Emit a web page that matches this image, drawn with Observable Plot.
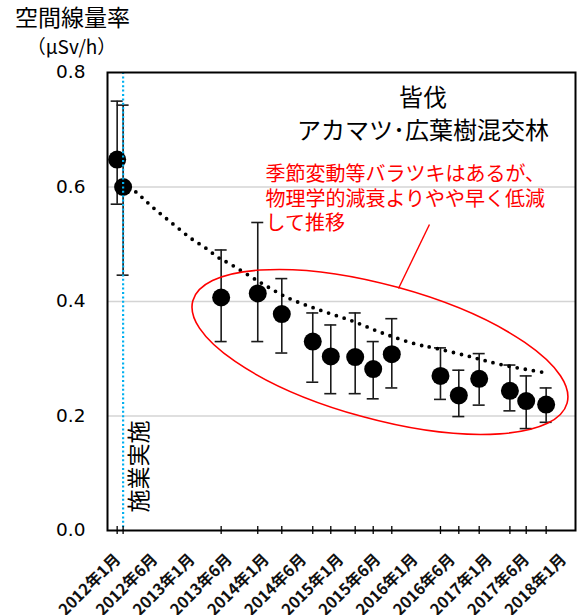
<!DOCTYPE html>
<html>
<head>
<meta charset="utf-8">
<script src="https://cdn.jsdelivr.net/npm/d3@7"></script>
<script src="https://cdn.jsdelivr.net/npm/@observablehq/plot@0.6"></script>
<style>
  body { margin: 0; background: #fff; }
</style>
</head>
<body>
<div id="chart"></div>
<script>
// ---- data (x = months since January 2012) ----
const xLabels = ["2012年1月","2012年6月","2013年1月","2013年6月","2014年1月","2014年6月","2015年1月","2015年6月","2016年1月","2016年6月","2017年1月","2017年6月","2018年1月"];
const yTicks = [0, 0.2, 0.4, 0.6, 0.8];

const surveyMonth = [-0.86, 0.1, 15.93, 21.84, 25.72, 30.72, 33.63, 37.57, 40.48, 43.48, 51.34, 54.3, 57.59, 62.55, 65.18, 68.4];
const doseRate    = [0.648, 0.600, 0.407, 0.414, 0.378, 0.330, 0.304, 0.303, 0.282, 0.308, 0.270, 0.236, 0.265, 0.244, 0.226, 0.220];
const doseLow     = [0.570, 0.446, 0.330, 0.330, 0.310, 0.259, 0.239, 0.239, 0.230, 0.249, 0.229, 0.199, 0.219, 0.209, 0.178, 0.189];
const doseHigh    = [0.750, 0.743, 0.490, 0.538, 0.440, 0.380, 0.359, 0.380, 0.330, 0.370, 0.319, 0.280, 0.309, 0.289, 0.270, 0.249];

// physical decay reference curve (dotted)
const decayMonth = [0.1, 2.63, 4.63, 6.73, 8.88, 11.09, 13.35, 15.71, 17.16, 21.84, 26.59, 31.85, 37.08, 42.19, 47.58, 50.26, 55.65, 61.03, 68.02];
const decayValue = [0.610, 0.587, 0.567, 0.548, 0.529, 0.510, 0.494, 0.475, 0.467, 0.436, 0.407, 0.385, 0.366, 0.344, 0.325, 0.319, 0.305, 0.290, 0.276];

const treatmentMonth = 0.1;
const yTitle = ["空間線量率", "（μSv/h）"];
const siteTitle = ["皆伐", "アカマツ･広葉樹混交林"];
const noteLines = ["季節変動等バラツキはあるが、", "物理学的減衰よりやや早く低減", "して推移"];
const treatmentLabel = "施業実施";
// annotation: ellipse centre (month, value) and leader line end points
const ellipseCentre = {month: 41.65, value: 0.311};
const leader = [{x1: 49.56, y1: 0.5345, x2: 44.56, y2: 0.4227}];

// ---- derived tables ----
const surveys = surveyMonth.map((m, i) => ({m, v: doseRate[i], lo: doseLow[i], hi: doseHigh[i]}));
const decay = decayMonth.map((m, i) => ({m, v: decayValue[i]}));
const labelRows = xLabels.map((t, i) => ({t, m: 6 * i}));

const JP = "'Noto Sans CJK JP', 'Noto Sans', sans-serif";

function ellipseMark(index, scales) {
  const ns = "http://www.w3.org/2000/svg";
  const cx = scales.x(ellipseCentre.month), cy = scales.y(ellipseCentre.value);
  const e = document.createElementNS(ns, "ellipse");
  e.setAttribute("cx", cx);
  e.setAttribute("cy", cy);
  e.setAttribute("rx", 194);
  e.setAttribute("ry", 67);
  e.setAttribute("transform", `rotate(15.3 ${cx} ${cy})`);
  e.setAttribute("fill", "none");
  e.setAttribute("stroke", "#FF0000");
  e.setAttribute("stroke-width", 1.6);
  return e;
}

const chart = Plot.plot({
  width: 578,
  height: 615,
  marginLeft: 107,
  marginRight: 3,
  marginTop: 72,
  marginBottom: 85,
  x: {domain: [-2.42, 73.14], axis: null},
  y: {domain: [0, 0.8], axis: null},
  style: {fontFamily: JP, background: "#fff", color: "#000", overflow: "visible"},
  marks: [
    Plot.ruleY([0.2, 0.4, 0.6], {stroke: "#d4d4d4", strokeWidth: 1.3}),
    // error bars
    Plot.ruleX(surveys, {x: "m", y1: "lo", y2: "hi", stroke: "#1a1a1a", strokeWidth: 1.6}),
    Plot.ruleY(surveys, {y: "hi", x1: "m", x2: "m", insetLeft: -6, insetRight: -6, stroke: "#1a1a1a", strokeWidth: 1.6}),
    Plot.ruleY(surveys, {y: "lo", x1: "m", x2: "m", insetLeft: -6, insetRight: -6, stroke: "#1a1a1a", strokeWidth: 1.6}),
    Plot.dot(surveys, {x: "m", y: "v", r: 9, fill: "#000", stroke: "none"}),
    // decay curve
    Plot.line(decay, {x: "m", y: "v", curve: "catmull-rom", stroke: "#000", strokeWidth: 3.8, strokeDasharray: "0 8.2", strokeLinecap: "round"}),
    // annotation
    ellipseMark,
    Plot.link(leader, {x1: "x1", y1: "y1", x2: "x2", y2: "y2", stroke: "#FF0000", strokeWidth: 1.4}),
    // treatment line
    Plot.ruleX([treatmentMonth], {stroke: "#00B0F0", strokeWidth: 2.2, strokeDasharray: "2 2.4"}),
    Plot.frame({stroke: "#000", strokeWidth: 2}),
    // x-axis ticks at survey dates
    Plot.ruleX(surveys, {x: "m", y1: 0, y2: 0, insetTop: -4, insetBottom: -4, stroke: "#000", strokeWidth: 1.3}),
    // x labels
    Plot.text(labelRows, {x: "m", text: "t", frameAnchor: "bottom", rotate: -45, textAnchor: "end", lineAnchor: "bottom", dx: -1, dy: 30, fontSize: 16, fontWeight: "bold", fill: "#111"}),
    // y labels
    Plot.text(yTicks, {y: d => d, text: d => d3.format(".1f")(d), frameAnchor: "left", textAnchor: "end", dx: -22, fontSize: 18.5, fontFamily: "'DejaVu Sans', sans-serif", fill: "#000"}),
    // y title
    Plot.text([yTitle[0]], {text: d => d, frameAnchor: "top-left", textAnchor: "middle", lineAnchor: "bottom", dx: -35, dy: -46.5, fontSize: 23, fill: "#000"}),
    Plot.text([yTitle[1]], {text: d => d, frameAnchor: "top-left", textAnchor: "middle", lineAnchor: "bottom", dx: -36, dy: -19, fontSize: 19, fill: "#000"}),
    // site title
    ...siteTitle.map((t, i) => Plot.text([t], {text: d => d, frameAnchor: "top-left", textAnchor: "middle", lineAnchor: "bottom", dx: 315.5, dy: 33 + 33 * i, fontSize: 24, fill: "#000"})),
    // note
    ...noteLines.map((t, i) => Plot.text([t], {text: d => d, frameAnchor: "top-left", textAnchor: "start", lineAnchor: "bottom", dx: 158, dy: 108.5 + 24.5 * i, fontSize: 20, fill: "#FF0000"})),
    // treatment label
    Plot.text([treatmentLabel], {x: () => treatmentMonth, text: d => d, frameAnchor: "bottom", rotate: -90, textAnchor: "start", lineAnchor: "middle", dx: 16.3, dy: -18, fontSize: 23, fill: "#000"})
  ]
});
document.getElementById("chart").appendChild(chart);
</script>
</body>
</html>
